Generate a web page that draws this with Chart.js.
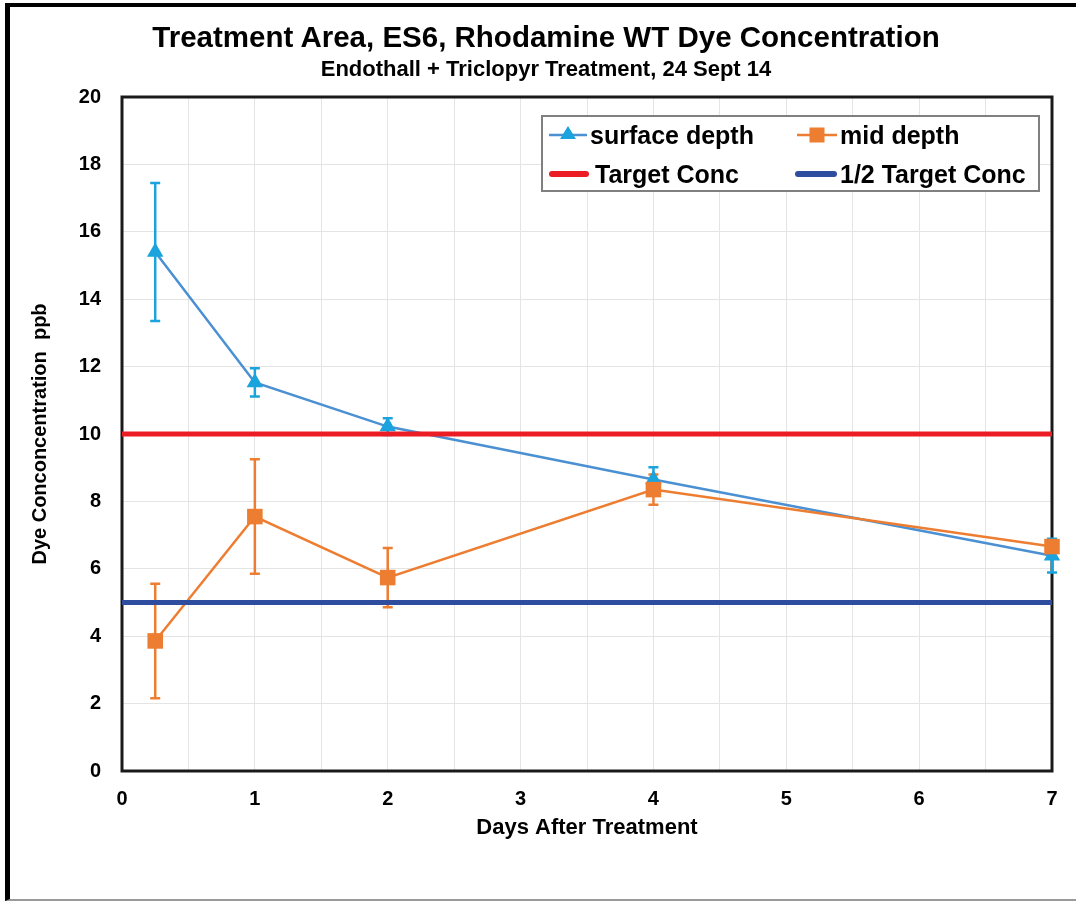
<!DOCTYPE html>
<html>
<head>
<meta charset="utf-8">
<script src="https://cdn.jsdelivr.net/npm/chart.js@4"></script>
<style>
  html, body { margin: 0; padding: 0; background: #fff; }
  body { width: 1076px; height: 901px; position: relative; overflow: hidden; font-family: "Liberation Sans", Arial, sans-serif; }
  #frame { position: absolute; left: 5px; top: 3px; width: 1090px; height: 892px; border-left: 5px solid #000; border-top: 4px solid #000; border-bottom: 2px solid #9a9a9a; }
  #wrap { position: absolute; left: 0; top: 0; width: 1076px; height: 901px; }
  .title { position: absolute; left: 0; width: 1092px; text-align: center; font-weight: bold; color: #000; white-space: nowrap; }
  #t1 { top: 20px; font-size: 29.5px; line-height: 34px; }
  #t2 { top: 56px; font-size: 22px; line-height: 26px; }
  #legend { position: absolute; left: 541px; top: 115px; width: 495px; height: 73px; border: 2px solid #808080; background: #fff; }
  .item { position: absolute; font-size: 25px; font-weight: bold; line-height: 30px; white-space: nowrap; color: #000; }
  .item svg { position: absolute; left: 0; top: 0; }
  .item span { position: absolute; top: 0; }
</style>
</head>
<body>
<div id="wrap"><canvas id="chart" width="1076" height="901"></canvas></div>
<div id="frame"></div>
<div class="title" id="t1">Treatment Area, ES6, Rhodamine WT Dye Concentration</div>
<div class="title" id="t2">Endothall + Triclopyr Treatment, 24 Sept 14</div>
<div id="legend">
  <div class="item" style="left:5px; top:3px;">
    <svg width="40" height="30"><line x1="1" y1="15" x2="39" y2="15" stroke="#4a90d2" stroke-width="2.5"/><polygon points="20,6 28,19 12,19" fill="#1aa3dc"/></svg>
    <span style="left:42px">surface depth</span>
  </div>
  <div class="item" style="left:253px; top:3px;">
    <svg width="42" height="30"><line x1="1" y1="15" x2="41" y2="15" stroke="#ed7d31" stroke-width="2.5"/><rect x="13.5" y="7.5" width="15" height="15" fill="#ed7d31"/></svg>
    <span style="left:44px">mid depth</span>
  </div>
  <div class="item" style="left:5px; top:42px;">
    <svg width="42" height="30"><line x1="4" y1="15" x2="38" y2="15" stroke="#ec1c24" stroke-width="6" stroke-linecap="round"/></svg>
    <span style="left:47px">Target Conc</span>
  </div>
  <div class="item" style="left:251px; top:42px;">
    <svg width="44" height="30"><line x1="4" y1="15" x2="40" y2="15" stroke="#2e4d9f" stroke-width="6" stroke-linecap="round"/></svg>
    <span style="left:46px">1/2 Target Conc</span>
  </div>
</div>
<script>
// données
const days = [0.25, 1, 2, 4, 7];
const surfaceDepth = [15.4, 11.53, 10.22, 8.65, 6.39];
const surfaceErr = [2.05, 0.42, 0.25, 0.36, 0.5];
const midDepth = [3.86, 7.55, 5.74, 8.35, 6.66];
const midErr = [1.7, 1.7, 0.88, 0.45, 0.1];
const refDays = [0, 7];
const targetConc = [10, 10];
const halfTargetConc = [5, 5];
const xTicks = [0, 1, 2, 3, 4, 5, 6, 7];
const yTicks = [0, 2, 4, 6, 8, 10, 12, 14, 16, 18, 20];

function toPoints(xs, ys) {
    return xs.map((x, i) => ({ x: x, y: ys[i] }));
}

// cadre du graphique (dessiné après la grille)
const plotBorder = {
    id: 'plotBorder',
    beforeDatasetsDraw(chart) {
        const a = chart.chartArea;
        const ctx = chart.ctx;
        ctx.save();
        ctx.strokeStyle = '#1a1a1a';
        ctx.lineWidth = 3;
        ctx.strokeRect(a.left, a.top, a.right - a.left, a.bottom - a.top);
        ctx.restore();
    }
};

// barres d'erreur
const errorBars = {
    id: 'errorBars',
    beforeDatasetsDraw(chart) {
        const ctx = chart.ctx;
        const xs = chart.scales.x;
        const ys = chart.scales.y;
        chart.data.datasets.forEach(ds => {
            if (!ds.errors) return;
            ctx.save();
            ctx.strokeStyle = ds.errorColor;
            ctx.lineWidth = 2.5;
            ds.data.forEach((p, i) => {
                const px = xs.getPixelForValue(p.x);
                const top = ys.getPixelForValue(p.y + ds.errors[i]);
                const bot = ys.getPixelForValue(p.y - ds.errors[i]);
                ctx.beginPath();
                ctx.moveTo(px, top); ctx.lineTo(px, bot);
                ctx.moveTo(px - 5, top); ctx.lineTo(px + 5, top);
                ctx.moveTo(px - 5, bot); ctx.lineTo(px + 5, bot);
                ctx.stroke();
            });
            ctx.restore();
        });
    }
};

const ctx = document.getElementById('chart').getContext('2d');
new Chart(ctx, {
    type: 'line',
    data: {
        datasets: [
            {
                label: 'Target Conc',
                data: toPoints(refDays, targetConc),
                borderColor: '#ec1c24',
                borderWidth: 5,
                pointRadius: 0,
                order: 1
            },
            {
                label: '1/2 Target Conc',
                data: toPoints(refDays, halfTargetConc),
                borderColor: '#2e4d9f',
                borderWidth: 5,
                pointRadius: 0,
                order: 2
            },
            {
                label: 'surface depth',
                data: toPoints(days, surfaceDepth),
                errors: surfaceErr,
                errorColor: '#1aa3dc',
                borderColor: '#4a90d2',
                borderWidth: 2.5,
                pointStyle: 'triangle',
                pointRadius: 9.5,
                pointBackgroundColor: '#1aa3dc',
                pointBorderWidth: 0,
                clip: false,
                order: 4
            },
            {
                label: 'mid depth',
                data: toPoints(days, midDepth),
                errors: midErr,
                errorColor: '#ed7d31',
                borderColor: '#ed7d31',
                borderWidth: 2.5,
                pointStyle: 'rect',
                pointRadius: 11,
                pointBackgroundColor: '#ed7d31',
                pointBorderWidth: 0,
                clip: false,
                order: 3
            }
        ]
    },
    options: {
        responsive: false,
        animation: false,
        layout: { padding: { top: 97, left: 0, right: 24, bottom: 0 } },
        plugins: {
            legend: { display: false },
            tooltip: { enabled: false }
        },
        scales: {
            x: {
                type: 'linear',
                min: 0,
                max: 7,
                afterFit: s => { s.height = 130; },
                border: { display: false },
                grid: { color: '#e4e4e4', lineWidth: 1, drawTicks: false },
                ticks: {
                    stepSize: 0.5,
                    autoSkip: false,
                    maxRotation: 0,
                    padding: 16,
                    color: '#000',
                    font: { family: 'Liberation Sans', size: 20, weight: 'bold' },
                    callback: v => xTicks.includes(v) ? String(v) : ''
                },
                title: {
                    display: true,
                    text: 'Days After Treatment',
                    color: '#000',
                    font: { family: 'Liberation Sans', size: 22, weight: 'bold' },
                    padding: { top: 0, bottom: 60 }
                }
            },
            y: {
                min: 0,
                max: 20,
                afterFit: s => { s.width = 122; },
                border: { display: false },
                grid: { color: '#e4e4e4', lineWidth: 1, drawTicks: false },
                ticks: {
                    stepSize: 2,
                    padding: 21,
                    color: '#000',
                    font: { family: 'Liberation Sans', size: 20, weight: 'bold' },
                    callback: v => yTicks.includes(v) ? String(v) : ''
                },
                title: {
                    display: true,
                    text: 'Dye Conconcentration  ppb',
                    color: '#000',
                    font: { family: 'Liberation Sans', size: 20, weight: 'bold' },
                    padding: { top: 28, bottom: 0 }
                }
            }
        }
    },
    plugins: [plotBorder, errorBars]
});
</script>
</body>
</html>
